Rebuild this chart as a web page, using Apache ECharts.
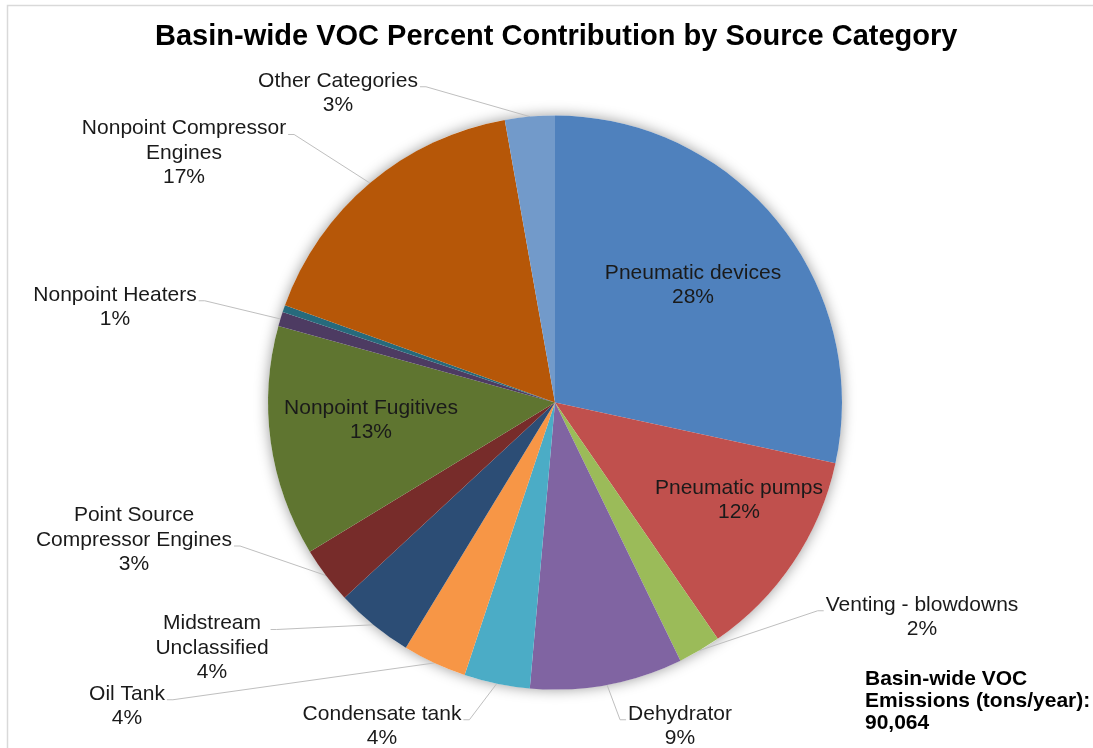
<!DOCTYPE html>
<html>
<head>
<meta charset="utf-8">
<script src="https://cdn.jsdelivr.net/npm/echarts@6/dist/echarts.min.js"></script>
<style>
  html, body { margin: 0; padding: 0; background: #fff; }
  #chart { width: 1093px; height: 748px; }
</style>
</head>
<body>
<div id="chart"></div>
<script>
// Source categories, clockwise from 12 o'clock
const categories = [
  'Pneumatic devices',
  'Pneumatic pumps',
  'Venting - blowdowns',
  'Dehydrator',
  'Condensate tank',
  'Oil Tank',
  'Midstream\nUnclassified',
  'Point Source\nCompressor Engines',
  'Nonpoint Fugitives',
  'Nonpoint Heaters',
  '',
  'Nonpoint Compressor\nEngines',
  'Other Categories'
];

// Share of basin-wide VOC emissions, percent
const shares = [28.4, 12.0, 2.4, 8.6, 3.7, 3.6, 4.4, 3.2, 13.0, 0.8, 0.4, 16.7, 2.8];

const sliceColors = [
  '#4F81BD', '#C0504D', '#9BBB59', '#8064A2', '#4BACC6', '#F79646',
  '#2C4D75', '#772C2A', '#5F7530', '#4D3B62', '#276A7C', '#B65708', '#729ACA'
];

const totalEmissions = '90,064';

// Label placement: centre of each label block, which side the leader attaches to,
// and which text line the leader meets.
const labelPlacement = [
  { x: 693, y: 285, inside: true },
  { x: 739, y: 500, inside: true },
  { x: 922, y: 617, side: 'left', line: 0 },
  { x: 680, y: 726, side: 'left', line: 0 },
  { x: 382, y: 726, side: 'right', line: 0 },
  { x: 127, y: 706, side: 'right', line: 0 },
  { x: 212, y: 648, side: 'right', line: 0 },
  { x: 134, y: 540, side: 'right', line: 1 },
  { x: 371, y: 420, inside: true },
  { x: 115, y: 307, side: 'right', line: 0 },
  null,
  { x: 184, y: 153, side: 'right', line: 0 },
  { x: 338, y: 93, side: 'right', line: 0 }
];

const LINE_H = 24.5;
const FONT = '"Liberation Sans", Arial, sans-serif';

const chart = echarts.init(document.getElementById('chart'), null, { renderer: 'canvas' });

const pieData = categories.map((name, i) => {
  const p = labelPlacement[i];
  const item = {
    name: name,
    value: shares[i],
    itemStyle: { color: sliceColors[i] }
  };
  if (!p) {
    item.label = { show: false };
    item.labelLine = { show: false };
  } else if (p.inside) {
    item.label = { position: 'inside' };
    item.labelLine = { show: false };
  }
  return item;
});

const total = shares.reduce((a, b) => a + b, 0);

chart.setOption({
  backgroundColor: '#ffffff',
  animation: false,
  title: [
    {
      text: 'Basin-wide VOC Percent Contribution by Source Category',
      left: 150,
      top: 17,
      textStyle: { fontFamily: FONT, fontWeight: 'bold', fontSize: 29, color: '#000' }
    },
    {
      text: 'Basin-wide VOC\nEmissions (tons/year):\n' + totalEmissions,
      left: 860,
      top: 663,
      textStyle: { fontFamily: FONT, fontWeight: 'bold', fontSize: 21, lineHeight: 22, color: '#000' }
    }
  ],
  graphic: [
    {
      type: 'polyline',
      silent: true,
      shape: { points: [[7.5, 760], [7.5, 5.5], [1100, 5.5]] },
      style: { stroke: '#d9d9d9', lineWidth: 1.5, fill: null }
    }
  ],
  series: [
    {
      // soft shadow disc under the pie
      type: 'pie',
      silent: true,
      center: [555, 402.5],
      radius: 287,
      z: 1,
      label: { show: false },
      labelLine: { show: false },
      data: [{ value: total, itemStyle: { color: '#ffffff', shadowBlur: 14, shadowColor: 'rgba(0,0,0,0.4)' } }]
    },
    {
      type: 'pie',
      center: [555, 402.5],
      radius: 287,
      startAngle: 90,
      clockwise: true,
      z: 2,
      avoidLabelOverlap: false,
      itemStyle: { borderWidth: 0 },
      label: {
        show: true,
        position: 'outside',
        fontFamily: FONT,
        fontSize: 21,
        lineHeight: LINE_H,
        color: '#1a1a1a',
        align: 'center',
        formatter: (p) => p.name + '\n' + Math.round(p.value / total * 100) + '%'
      },
      labelLine: {
        show: true,
        length: 10,
        length2: 10,
        lineStyle: { color: '#bfbfbf', width: 1 }
      },
      labelLayout: function (params) {
        const p = labelPlacement[params.dataIndex];
        if (!p) return {};
        const out = { x: p.x, y: p.y, align: 'center', verticalAlign: 'middle' };
        if (!p.inside && params.labelLinePoints) {
          const w = params.labelRect.width;
          const h = params.labelRect.height;
          const top = p.y - h / 2;
          const ly = top + LINE_H * (p.line + 0.5) + 6;
          const anchor = params.labelLinePoints[0];
          let ex, kx;
          if (p.side === 'right') {
            ex = p.x + w / 2 + 2;
            kx = ex + 6;
          } else {
            ex = p.x - w / 2 - 2;
            kx = ex - 6;
          }
          out.labelLinePoints = [anchor, [kx, ly], [ex, ly]];
        }
        return out;
      },
      data: pieData
    }
  ]
});
</script>
</body>
</html>
